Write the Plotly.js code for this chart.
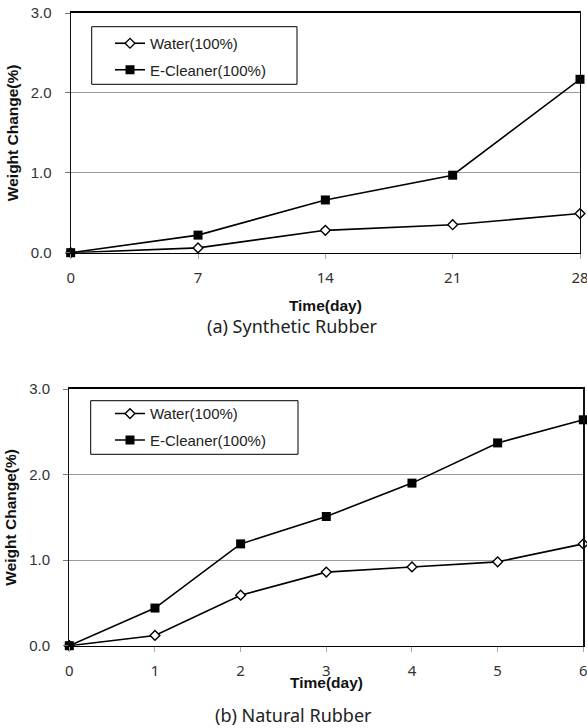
<!DOCTYPE html>
<html>
<head>
<meta charset="utf-8">
<script src="https://cdn.plot.ly/plotly-3.0.1.min.js"></script>
<style>html,body{margin:0;padding:0;background:#fff;}#chart{width:587px;height:728px;}</style>
</head>
<body>
<div id="chart"></div>
<script>
// ---- data ----
const seriesNames = ['Water(100%)', 'E-Cleaner(100%)'];
const daysA = [0, 7, 14, 21, 28];
const waterA = [0, 0.06, 0.28, 0.35, 0.49];
const cleanerA = [0, 0.22, 0.66, 0.97, 2.17];
const daysB = [0, 1, 2, 3, 4, 5, 6];
const waterB = [0, 0.12, 0.59, 0.86, 0.92, 0.98, 1.19];
const cleanerB = [0, 0.44, 1.19, 1.51, 1.90, 2.37, 2.64];
const yTickVals = [0, 1, 2, 3];
const yTickText = ['0.0', '1.0', '2.0', '3.0'];
const xTickTextA = ['0', '7', '14', '21', '28'];
const xTickTextB = ['0', '1', '2', '3', '4', '5', '6'];
const xTitle = 'Time(day)';
const yTitle = 'Weight Change(%)';
const captionA = '(a) Synthetic Rubber';
const captionB = '(b) Natural Rubber';

// ---- styles ----
const W = 587, H = 728;
const px = v => v / W;
const py = v => 1 - v / H;
const waterMarker = {symbol: 'diamond', size: 7.5, color: '#fff', line: {color: '#000', width: 1.4}};
const cleanerMarker = {symbol: 'square', size: 9, color: '#000', line: {color: '#000', width: 0}};
const lineStyle = {color: '#000', width: 1.6};

const traces = [
  {x: daysA, y: waterA, name: seriesNames[0], mode: 'lines+markers', xaxis: 'x', yaxis: 'y',
   line: lineStyle, marker: waterMarker, cliponaxis: false, legend: 'legend', legendgroup: 'a1'},
  {x: daysA, y: cleanerA, name: seriesNames[1], mode: 'lines+markers', xaxis: 'x', yaxis: 'y',
   line: lineStyle, marker: cleanerMarker, cliponaxis: false, legend: 'legend', legendgroup: 'a2'},
  {x: daysB, y: waterB, name: seriesNames[0], mode: 'lines+markers', xaxis: 'x2', yaxis: 'y2',
   line: lineStyle, marker: waterMarker, cliponaxis: false, legend: 'legend2', legendgroup: 'b1'},
  {x: daysB, y: cleanerB, name: seriesNames[1], mode: 'lines+markers', xaxis: 'x2', yaxis: 'y2',
   line: lineStyle, marker: cleanerMarker, cliponaxis: false, legend: 'legend2', legendgroup: 'b2'}
];

const tickFontY = {family: 'Liberation Sans, Arial, sans-serif', size: 15, color: '#333'};
const tickFontX = {family: 'Noto Sans, sans-serif', size: 15, color: '#333'};
const titleFont = {family: 'Liberation Sans, Arial, sans-serif', size: 15.5, color: '#111', weight: 'bold'};
const legendFont = {family: 'Liberation Sans, Arial, sans-serif', size: 15, color: '#222'};
const captionFont = {family: 'Noto Sans, sans-serif', size: 18, color: '#222'};

function xAxis(domain, range, vals, text, anchor, withTitle) {
  return {
    domain: domain, range: range, anchor: anchor, tickmode: 'array', tickvals: vals, ticktext: text,
    showline: true, mirror: true, linecolor: '#000', linewidth: 1.6,
    ticks: 'outside', ticklen: 5, tickcolor: '#aaa', tickwidth: 1,
    showgrid: false, zeroline: false, tickfont: tickFontX, ticklabelstandoff: 6,
    ticklabeloverflow: 'allow',
    fixedrange: true, automargin: false,
    title: withTitle ? {text: xTitle, font: titleFont, standoff: 14} : {text: ''}
  };
}
function yAxis(domain, anchor) {
  return {
    domain: domain, range: [0, 3], anchor: anchor, tickmode: 'array', tickvals: yTickVals, ticktext: yTickText,
    showline: true, mirror: true, linecolor: '#111', linewidth: 1.2,
    ticks: 'outside', ticklen: 5, tickcolor: '#777', tickwidth: 1,
    showgrid: true, gridcolor: '#9a9a9a', gridwidth: 1, zeroline: false,
    tickfont: tickFontY, ticklabelstandoff: 10, fixedrange: true, automargin: false,
    title: {text: yTitle, font: titleFont, standoff: 8}
  };
}

const legendBase = {
  bgcolor: 'rgba(0,0,0,0)', borderwidth: 0, font: legendFont, xanchor: 'left', yanchor: 'top',
  traceorder: 'grouped', tracegroupgap: 4, itemwidth: 30, itemclick: false, itemdoubleclick: false
};

const layout = {
  width: W, height: H,
  margin: {l: 0, r: 0, t: 0, b: 0},
  paper_bgcolor: '#fff', plot_bgcolor: '#fff',
  showlegend: true,
  xaxis: xAxis([px(70.7), px(580)], [0, 28], daysA, xTickTextA, 'y', true),
  yaxis: yAxis([py(252.7), py(13)], 'x'),
  xaxis2: xAxis([px(69.3), px(583.3)], [0, 6], daysB, xTickTextB, 'y2', false),
  yaxis2: yAxis([py(645.7), py(389)], 'x2'),
  legend: Object.assign({}, legendBase, {x: px(110), y: py(27)}),
  legend2: Object.assign({}, legendBase, {x: px(110), y: py(397.3)}),
  shapes: [
    {type: 'rect', xref: 'paper', yref: 'paper', x0: px(91.7), x1: px(297), y0: py(26.7), y1: py(84.3),
     line: {color: '#000', width: 1}, fillcolor: 'rgba(0,0,0,0)', layer: 'above'},
    {type: 'rect', xref: 'paper', yref: 'paper', x0: px(90.7), x1: px(298), y0: py(400.7), y1: py(454.3),
     line: {color: '#000', width: 1}, fillcolor: 'rgba(0,0,0,0)', layer: 'above'}
  ],
  annotations: [
    {text: xTitle, xref: 'x2 domain', yref: 'paper', x: 0.5, y: py(682.5), showarrow: false,
     font: titleFont, xanchor: 'center', yanchor: 'middle'},
    {text: captionA, xref: 'paper', yref: 'paper', x: px(292), y: py(326), showarrow: false,
     font: captionFont, xanchor: 'center', yanchor: 'middle'},
    {text: captionB, xref: 'paper', yref: 'paper', x: px(294), y: py(715), showarrow: false,
     font: captionFont, xanchor: 'center', yanchor: 'middle'}
  ]
};

Plotly.newPlot('chart', traces, layout, {displayModeBar: false, staticPlot: true});
</script>
</body>
</html>
